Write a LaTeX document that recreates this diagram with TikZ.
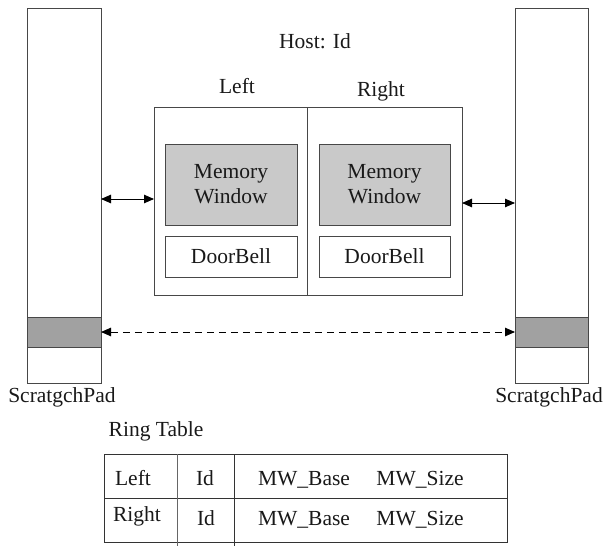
\documentclass[tikz,border=0pt]{standalone}
\usepackage{fontspec}
\setmainfont{Liberation Serif}
\usetikzlibrary{arrows.meta}
\begin{document}
\begin{tikzpicture}[x=1pt,y=-1pt,
  line/.style={draw=black!72, line width=0.9pt},
  txt/.style={font=\fontsize{21.5}{25}\selectfont, text=black!90, inner sep=0pt},
  btxt/.style={txt, anchor=base},
  box/.style={line, inner sep=0pt, outer sep=0pt, anchor=north west, font=\fontsize{21.5}{25}\selectfont, text=black!90, align=center},
  mw/.style={box, fill=black!21},
  band/.style={box, fill=black!37},
  arr/.style={draw=black, line width=0.9pt, {Triangle[length=10pt,width=8.5pt]}-{Triangle[length=10pt,width=8.5pt]}}
]
\useasboundingbox (0,0) rectangle (605,546);
% scratchpads
\node[box, minimum width=74pt, minimum height=375pt] (lpad) at (27,8) {};
\node[band, minimum width=74pt, minimum height=30pt] (lband) at (27,317) {};
\node[box, minimum width=73pt, minimum height=375pt] (rpad) at (515,8) {};
\node[band, minimum width=73pt, minimum height=30pt] (rband) at (515,317) {};
\node[btxt] (lpadlbl) at (62,402) {ScratgchPad};
\node[btxt] (rpadlbl) at (549,402) {ScratgchPad};
% host
\node[btxt] (host) at (315,48) {Host: Id};
\node[btxt] (leftlbl) at (237,93) {Left};
\node[btxt] (rightlbl) at (381,96) {Right};
\node[box, minimum width=308pt, minimum height=188pt] (main) at (154,107) {};
\draw[line] (307,107) coordinate (divtop) -- (307,295) coordinate (divbot);
\node[mw, minimum width=132pt, minimum height=81pt] (lmw) at (165,144) {Memory\\Window};
\node[box, minimum width=132pt, minimum height=41pt] (ldb) at (165,236) {DoorBell};
\node[mw, minimum width=131pt, minimum height=81pt] (rmw) at (319,144) {Memory\\Window};
\node[box, minimum width=131pt, minimum height=41pt] (rdb) at (319,236) {DoorBell};
% arrows
\coordinate (la) at (101,199);
\coordinate (ra) at (462,203);
\draw[arr] (la) -- (main.west |- la);
\draw[arr] (ra) -- (rpad.west |- ra);
\draw[arr, dash pattern=on 7pt off 5pt] (lband.east) -- (rband.west);
% ring table
\node[btxt] (ringlbl) at (156,436) {Ring Table};
\draw[line, draw=black!80] (104,454) -- (507,454) -- (507,542) -- (104,542) -- cycle;
\draw[line, draw=black!80] (104,498) -- (507,498);
\draw[line, draw=black!60] (177,454) -- (177,546);
\draw[line, draw=black!80] (234,454) -- (234,546);
\node[btxt] (c11) at (133,485) {Left};
\node[btxt] (c12) at (205,485) {Id};
\node[btxt] (c13) at (304,485) {MW\_Base};
\node[btxt] (c14) at (420,485) {MW\_Size};
\node[btxt] (c21) at (137,521) {Right};
\node[btxt] (c22) at (206,525) {Id};
\node[btxt] (c23) at (304,525) {MW\_Base};
\node[btxt] (c24) at (420,525) {MW\_Size};
\end{tikzpicture}
\end{document}
